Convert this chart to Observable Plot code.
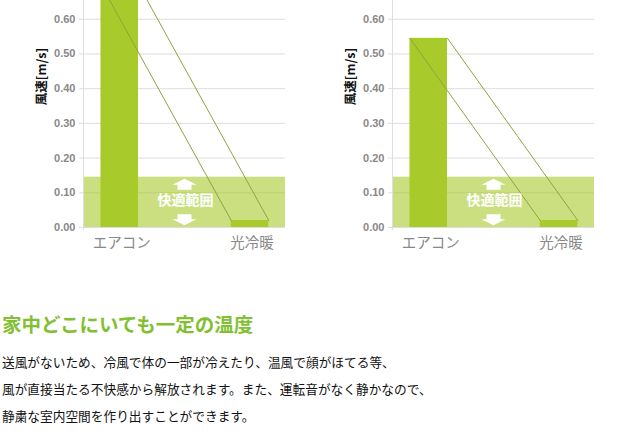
<!DOCTYPE html>
<html><head><meta charset="utf-8">
<script src="https://cdn.jsdelivr.net/npm/d3@7"></script>
<script src="https://cdn.jsdelivr.net/npm/@observablehq/plot@0.6"></script>
<style>
body{margin:0;background:#fff;}
#wrap{position:relative;width:640px;height:442px;overflow:hidden;background:#fff;}
#p1{position:absolute;left:0;top:0;}
#p2{position:absolute;left:309px;top:0;}
#title{position:absolute;left:2px;top:314px;font-family:"Noto Sans CJK JP",sans-serif;font-weight:bold;font-size:19.5px;line-height:20px;color:#82c032;white-space:nowrap;}
#body{position:absolute;left:2px;top:348px;font-family:"Noto Sans CJK JP",sans-serif;font-size:12.7px;line-height:27px;color:#111;white-space:nowrap;}
</style>
</head><body>
<div id="wrap">
  <div id="p1"></div>
  <div id="p2"></div>
  <div id="title"></div>
  <div id="body"></div>
</div>
<script>
// ---- data ----
const categories = ["エアコン", "光冷暖"];
const leftValues = [0.70, 0.02];
const rightValues = [0.545, 0.02];
const comfortMax = 0.145;
const yTicks = [0, 0.1, 0.2, 0.3, 0.4, 0.5, 0.6];
const yLabel = "風速[m/s]";
const comfortLabel = "快適範囲";
const titleText = "家中どこにいても一定の温度";
const bodyLines = [
  "送風がないため、冷風で体の一部が冷えたり、温風で顔がほてる等、",
  "風が直接当たる不快感から解放されます。また、運転音がなく静かなので、",
  "静粛な室内空間を作り出すことができます。"
];

// ---- style ----
const barColor = "#a9ca2b";
const lineColor = "#8ba540";
const gridColor = "#dedede";
const xDomain = [-0.278, 1.272];
const halfWidth = 0.144;

// block arrow glyph (fixed pixel geometry), dir = 1 up, -1 down
function arrowSymbol(dir) {
  return {
    draw(ctx) {
      const s = dir;
      ctx.moveTo(0, -6 * s);
      ctx.lineTo(12 * s, 0);
      ctx.lineTo(7 * s, 0);
      ctx.lineTo(7 * s, 5 * s);
      ctx.lineTo(-7 * s, 5 * s);
      ctx.lineTo(-7 * s, 0);
      ctx.lineTo(-12 * s, 0);
      ctx.closePath();
    }
  };
}

function panel(values) {
  const rows = categories.map((c, i) => ({cat: c, i, value: values[i]}));
  const mid = (xDomain[0] + xDomain[1]) / 2;
  return Plot.plot({
    width: 308,
    height: 260,
    marginLeft: 83,
    marginRight: 23,
    marginTop: 0,
    marginBottom: 33,
    style: {fontFamily: "'Liberation Sans', 'Noto Sans CJK JP', sans-serif", fontSize: "11px", background: "#fff"},
    x: {domain: xDomain},
    y: {domain: [0, 0.654]},
    marks: [
      Plot.gridY(yTicks, {stroke: gridColor, strokeOpacity: 1}),
      Plot.rect([comfortMax], {x1: xDomain[0], x2: xDomain[1], y1: 0, y2: d => d, fill: barColor, fillOpacity: 0.6}),
      Plot.rect(rows, {x1: d => d.i - halfWidth, x2: d => d.i + halfWidth, y1: 0, y2: "value", fill: barColor, clip: true}),
      Plot.line(rows, {x: d => d.i - halfWidth, y: "value", stroke: lineColor, strokeWidth: 1, clip: true}),
      Plot.line(rows, {x: d => d.i + halfWidth, y: "value", stroke: lineColor, strokeWidth: 1, clip: true}),
      Plot.dot([comfortMax * 0.85], {x: mid, y: d => d, r: 10, symbol: arrowSymbol(1), fill: "#fff", stroke: null}),
      Plot.dot([comfortMax * 0.165], {x: mid, y: d => d, r: 10, symbol: arrowSymbol(-1), fill: "#fff", stroke: null}),
      Plot.text([comfortLabel], {x: mid + 0.008, y: comfortMax * 0.53, text: d => d, fill: "#fff", fontSize: 14, fontWeight: "bold", fontFamily: "Noto Sans CJK JP"}),
      Plot.ruleX([xDomain[0]], {stroke: gridColor, insetBottom: -3}),
      Plot.axisY({ticks: yTicks, tickFormat: ".2f", tickSize: 4, tickPadding: 4, stroke: gridColor, fill: "#888", fontWeight: "bold", label: null}),
      Plot.axisX({ticks: [0, 1], tickFormat: i => categories[i], tickSize: 0, tickPadding: 10, dx: 2, fill: "#888", fontSize: 14.5, fontFamily: "Noto Sans CJK JP", label: null}),
      Plot.text([yLabel], {frameAnchor: "top-left", textAnchor: "middle", dx: -46, dy: 76, rotate: -90, text: d => d, fill: "#111", fontWeight: "bold", fontSize: 12.5, fontFamily: "Noto Sans CJK JP"})
    ]
  });
}

document.getElementById("p1").appendChild(panel(leftValues));
document.getElementById("p2").appendChild(panel(rightValues));
document.getElementById("title").textContent = titleText;
document.getElementById("body").innerHTML = bodyLines.map(l => `<div>${l}</div>`).join("");
</script>
</body></html>
